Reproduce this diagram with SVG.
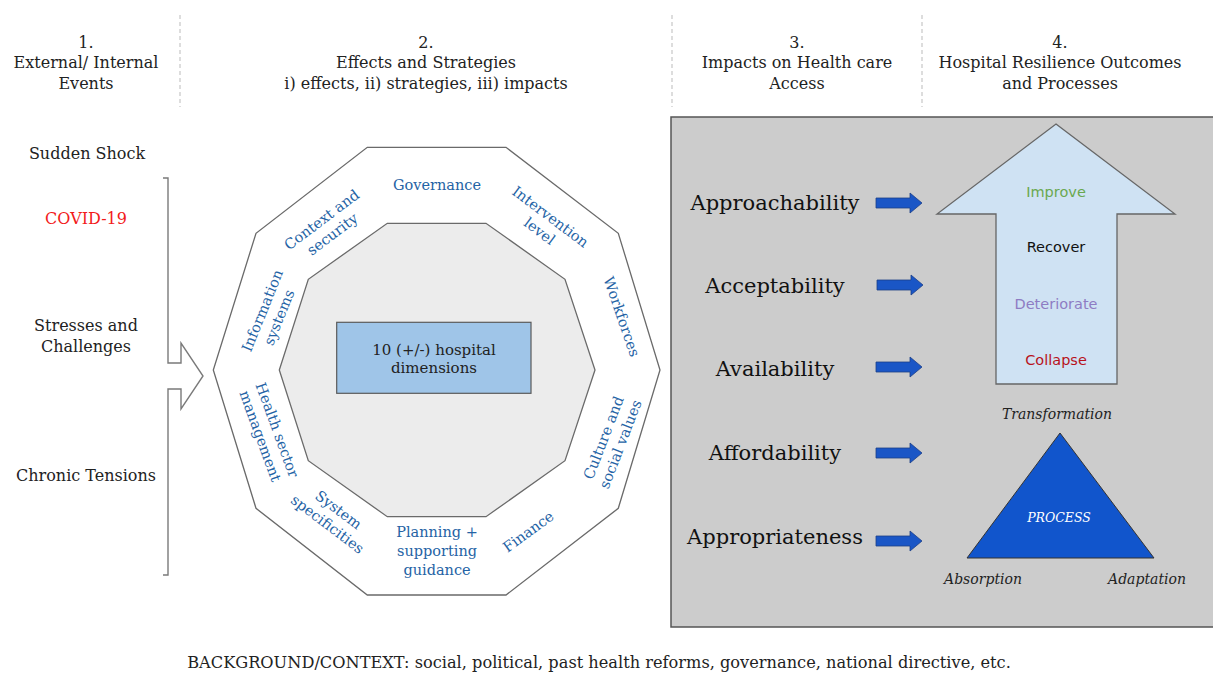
<svg xmlns="http://www.w3.org/2000/svg" width="1213" height="673" viewBox="0 0 1213 673">
<defs>
<style>
text{font-family:"DejaVu Serif","Liberation Serif",serif;fill:#222}
.hd{font-size:16px;text-anchor:middle}
.lf{font-size:16px;text-anchor:middle}
.dim{font-size:14.5px;fill:#2563a5;text-anchor:middle}
.acc{font-size:21px;text-anchor:middle;fill:#111}
.out{font-family:"DejaVu Sans","Liberation Sans",sans-serif;font-size:14.5px;text-anchor:middle}
.it{font-style:italic;font-size:14px;text-anchor:middle}
.sep{stroke:#bbb;stroke-width:1;stroke-dasharray:4 3}
.barrow{fill:#1a56c6;stroke:#1d3f86;stroke-width:0.8}
</style>
<path id="ba" d="M0,-5 H34 V-10 L46,0 L34,10 V5 H0 Z"/>
</defs>

<g id="separators">
<line class="sep" x1="180" y1="15" x2="180" y2="107"/>
<line class="sep" x1="672" y1="15" x2="672" y2="107"/>
<line class="sep" x1="922" y1="15" x2="922" y2="107"/>
</g>

<g id="headers">
<text class="hd" x="86" y="48">1.</text>
<text class="hd" x="86" y="68">External/ Internal</text>
<text class="hd" x="86" y="89">Events</text>
<text class="hd" x="426" y="48">2.</text>
<text class="hd" x="426" y="68">Effects and Strategies</text>
<text class="hd" x="426" y="89">i) effects, ii) strategies, iii) impacts</text>
<text class="hd" x="797" y="48">3.</text>
<text class="hd" x="797" y="68">Impacts on Health care</text>
<text class="hd" x="797" y="89">Access</text>
<text class="hd" x="1060" y="48">4.</text>
<text class="hd" x="1060" y="68">Hospital Resilience Outcomes</text>
<text class="hd" x="1060" y="89">and Processes</text>
</g>

<g id="events">
<text class="lf" x="87" y="159">Sudden Shock</text>
<text class="lf" x="86" y="224" style="fill:#f21b1b">COVID-19</text>
<text class="lf" x="86" y="331">Stresses and</text>
<text class="lf" x="86" y="352">Challenges</text>
<text class="lf" x="86" y="481">Chronic Tensions</text>
</g>

<g id="bracket-arrow">
<path d="M163,178 H168 V363 H181 V343 L203,376 L181,409 V389 H168 V575 H163" fill="#fff" stroke="#7a7a7a" stroke-width="1.4"/>
</g>

<g id="outer-decagon">
<polygon points="367.3,147.3 506,147.3 618.3,233.3 660,370 618.3,508.3 506,595 367.3,595 256,508.3 213.3,370 256,233.3" fill="#fff" stroke="#6a6a6a" stroke-width="1.3"/>
</g>
<g id="inner-decagon">
<polygon points="387.3,223.3 486,223.3 565,279.3 595,370 565,460.7 486,516.7 387.3,516.7 308.3,460.7 279.3,370 308.3,279.3" fill="#ececec" stroke="#6a6a6a" stroke-width="1.3"/>
</g>
<g id="center-box">
<rect x="336.7" y="322.3" width="194.3" height="71" fill="#9fc5e8" stroke="#5a5a5a" stroke-width="1.2"/>
<text x="434" y="355" style="font-size:15px;text-anchor:middle">10 (+/-) hospital</text>
<text x="434" y="373" style="font-size:15px;text-anchor:middle">dimensions</text>
</g>

<g id="dimensions">
<g id="dim-governance" transform="translate(437,185)"><text class="dim" y="5">Governance</text></g>
<g id="dim-intervention" transform="translate(545,224) rotate(37)"><text class="dim" y="-4">Intervention</text><text class="dim" y="14">level</text></g>
<g id="dim-workforces" transform="translate(621.7,316.7) rotate(71)"><text class="dim" y="5">Workforces</text></g>
<g id="dim-culture" transform="translate(612,441) rotate(-69)"><text class="dim" y="-4">Culture and</text><text class="dim" y="14">social values</text></g>
<g id="dim-finance" transform="translate(528.3,531.7) rotate(-36)"><text class="dim" y="5">Finance</text></g>
<g id="dim-planning"><text class="dim" x="437" y="537">Planning +</text><text class="dim" x="437" y="556">supporting</text><text class="dim" x="437" y="575">guidance</text></g>
<g id="dim-system" transform="translate(333,517) rotate(37)"><text class="dim" y="-4">System</text><text class="dim" y="14">specificities</text></g>
<g id="dim-health" transform="translate(268.7,433) rotate(70)"><text class="dim" y="-4">Health sector</text><text class="dim" y="14">management</text></g>
<g id="dim-information" transform="translate(270.7,314) rotate(-68)"><text class="dim" y="-4">Information</text><text class="dim" y="14">systems</text></g>
<g id="dim-context" transform="translate(327,227) rotate(-37)"><text class="dim" y="-4">Context and</text><text class="dim" y="14">security</text></g>
</g>

<g id="access-panel">
<rect x="671" y="117" width="560" height="510" fill="#cccccc" stroke="#555" stroke-width="1.5"/>
</g>

<g id="access-labels">
<text class="acc" x="775" y="210">Approachability</text>
<text class="acc" x="775" y="293">Acceptability</text>
<text class="acc" x="775" y="376">Availability</text>
<text class="acc" x="775" y="460">Affordability</text>
<text class="acc" x="775" y="544">Appropriateness</text>
</g>

<g id="connectors">
<use href="#ba" class="barrow" transform="translate(876,203)"/>
<use href="#ba" class="barrow" transform="translate(877,285)"/>
<use href="#ba" class="barrow" transform="translate(876,367)"/>
<use href="#ba" class="barrow" transform="translate(876,453)"/>
<use href="#ba" class="barrow" transform="translate(876,541)"/>
</g>

<g id="outcomes-arrow">
<polygon points="1056,124 1175,214 1117,214 1117,384 996,384 996,214 937,214" fill="#cfe2f3" stroke="#666" stroke-width="1.3"/>
<text class="out" x="1056" y="197" style="fill:#6aa84f">Improve</text>
<text class="out" x="1056" y="252" style="fill:#111">Recover</text>
<text class="out" x="1056" y="309" style="fill:#8e7cc3">Deteriorate</text>
<text class="out" x="1056" y="365" style="fill:#b8121b">Collapse</text>
</g>

<g id="process">
<text class="it" x="1057" y="419">Transformation</text>
<polygon points="1060,433 1154,558 967,558" fill="#1155cc" stroke="#333" stroke-width="1"/>
<text class="it" x="1059" y="522" style="fill:#fff;font-size:12.5px">PROCESS</text>
<text class="it" x="983" y="584">Absorption</text>
<text class="it" x="1147" y="584">Adaptation</text>
</g>

<g id="background">
<text x="599" y="668" style="font-size:16.2px;text-anchor:middle">BACKGROUND/CONTEXT: social, political, past health reforms, governance, national directive, etc.</text>
</g>
</svg>
